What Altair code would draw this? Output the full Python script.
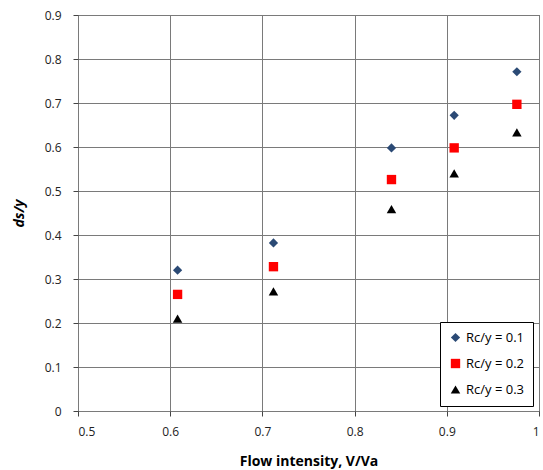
import altair as alt
import pandas as pd

x_vals = [0.608, 0.712, 0.840, 0.908, 0.976]
s1 = [0.320, 0.382, 0.598, 0.672, 0.771]
s2 = [0.265, 0.328, 0.526, 0.598, 0.697]
s3 = [0.210, 0.272, 0.459, 0.540, 0.633]
series_names = ["Rc/y = 0.1", "Rc/y = 0.2", "Rc/y = 0.3"]

rows = []
for name, vals in zip(series_names, [s1, s2, s3]):
    for xv, yv in zip(x_vals, vals):
        rows.append({"x": xv, "y": yv, "series": name})
df = pd.DataFrame(rows)

font = "Open Sans"

leg = alt.Legend(title=None, orient="none", legendX=362, legendY=307,
                 strokeColor="#000", fillColor="#fff", padding=9,
                 rowPadding=12, labelFontSize=13, symbolSize=60,
                 labelFont=font, labelColor="#000", labelOffset=4)

ax_common = dict(format="~g", labelFont=font, titleFont=font, labelFontSize=12,
                 labelColor="#222", titleColor="#000", gridColor="#7a7a7a",
                 gridWidth=1, domain=False, tickColor="#444", tickSize=5,
                 titleFontWeight="bold", titleFontSize=14)

chart = alt.Chart(df).mark_point(filled=True, opacity=1).encode(
    x=alt.X("x:Q", scale=alt.Scale(domain=[0.5, 1.0], nice=False),
            axis=alt.Axis(title="Flow intensity, V/Va", values=[0.5, 0.6, 0.7, 0.8, 0.9, 1.0],
                          titlePadding=17, labelPadding=10, **ax_common)),
    y=alt.Y("y:Q", scale=alt.Scale(domain=[0, 0.9], nice=False),
            axis=alt.Axis(title="ds/y", values=[0, 0.1, 0.2, 0.3, 0.4, 0.5, 0.6, 0.7, 0.8, 0.9],
                          titleFontStyle="italic", titlePadding=18, labelPadding=12, **ax_common)),
    shape=alt.Shape("series:N", scale=alt.Scale(domain=series_names,
                    range=["diamond", "square", "triangle-up"]), legend=leg),
    color=alt.Color("series:N", scale=alt.Scale(domain=series_names,
                    range=["#2B4A75", "#FF0000", "#000000"]), legend=leg),
    size=alt.Size("series:N", scale=alt.Scale(domain=series_names, range=[85, 90, 100]), legend=leg),
).properties(
    width=461, height=396,
    background="white",
    autosize=alt.AutoSizeParams(type="none"),
    padding={"left": 78, "top": 15, "right": 4, "bottom": 59},
).configure_view(
    stroke="#444", strokeWidth=1
)

chart.save("out.html", embed_options={"renderer": "svg", "actions": False})
